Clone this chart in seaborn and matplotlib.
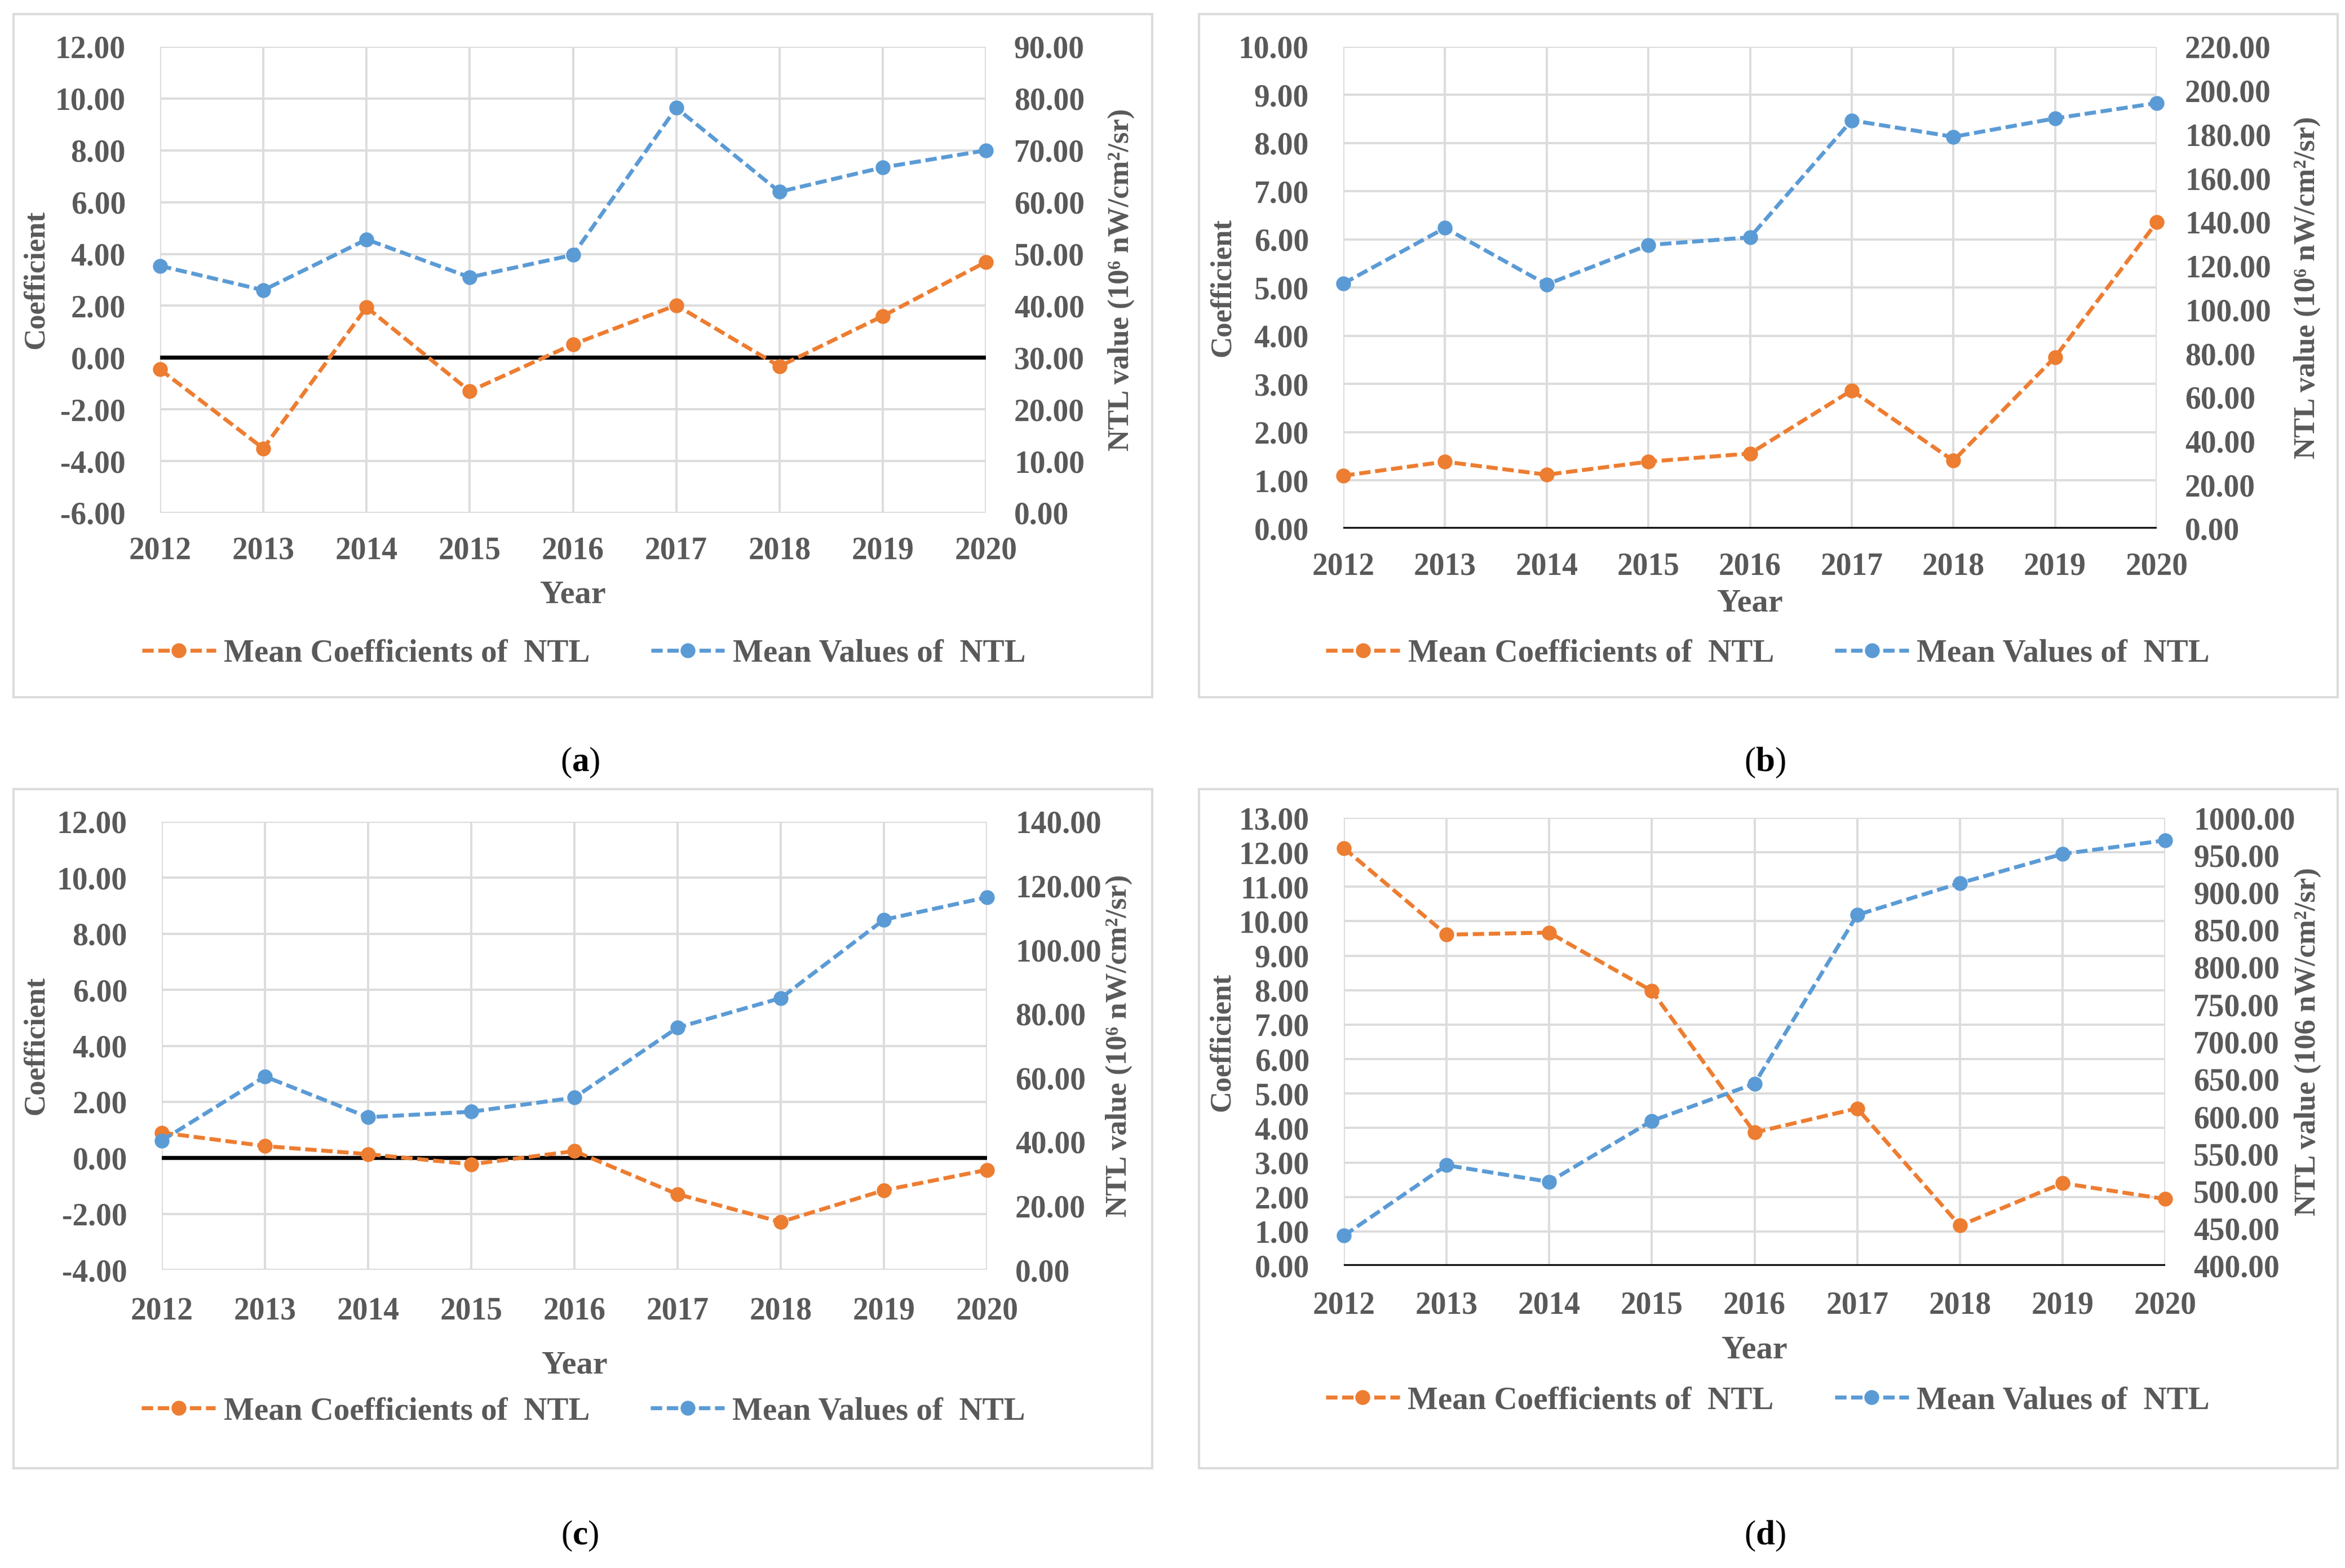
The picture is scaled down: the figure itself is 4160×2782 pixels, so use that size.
import matplotlib
matplotlib.use('Agg')
import matplotlib.pyplot as plt
from matplotlib.patches import Rectangle
import numpy as np
import pandas as pd
import seaborn as sns

years = [2012, 2013, 2014, 2015, 2016, 2017, 2018, 2019, 2020]

coef_a = [-0.46, -3.51, 1.94, -1.30, 0.51, 2.02, -0.34, 1.60, 3.69]
ntl_a = [47.7, 43.0, 52.8, 45.5, 49.8, 78.2, 62.0, 66.7, 70.0]

coef_b = [1.10, 1.39, 1.12, 1.39, 1.56, 2.87, 1.41, 3.56, 6.36]
ntl_b = [111.9, 137.3, 111.5, 129.5, 133.0, 186.4, 178.9, 187.3, 194.3]

coef_c = [0.90, 0.42, 0.13, -0.23, 0.24, -1.30, -2.29, -1.16, -0.43]
ntl_c = [40.4, 60.4, 47.7, 49.4, 53.8, 75.7, 84.9, 109.4, 116.4]

coef_d = [12.12, 9.61, 9.67, 7.98, 3.87, 4.57, 1.17, 2.40, 1.94]
ntl_d = [440.5, 534.8, 512.6, 594.2, 644.0, 870.0, 912.5, 951.6, 969.8]

coef_label = 'Mean Coefficients of  NTL'
ntl_label = 'Mean Values of  NTL'
right_title = 'NTL value (10\u2076 nW/cm\u00b2/sr)'
right_title_d = 'NTL value (106 nW/cm\u00b2/sr)'

sns.set_style('white')
plt.rcParams['font.family'] = ['Liberation Serif', 'DejaVu Serif']
plt.rcParams['mathtext.fontset'] = 'custom'
plt.rcParams['mathtext.rm'] = 'Liberation Serif'
plt.rcParams['mathtext.bf'] = 'Liberation Serif:bold'

ORANGE = '#ED7D31'
BLUE = '#5B9BD5'
GRAY = '#595959'
GRID = '#DCDCDC'
DASH = (0, (2.9, 1.2))

W, H = 4160, 2782
fig = plt.figure(figsize=(20.8, 13.91), dpi=200)


def px_rect(x0, y0, x1, y1):
    return [x0 / W, 1 - y1 / H, (x1 - x0) / W, (y1 - y0) / H]


def draw_panel(rect, coef, ntl, lticks, rticks, rtitle, ylab_x, rlab_x, year_y, leg_x, leg_y, xpad):
    ax = fig.add_axes(px_rect(*rect))
    df = pd.DataFrame({'Year': years, 'coef': coef, 'ntl': ntl})
    ax.axhline(0, color='black', lw=2.6, zorder=2)
    sns.lineplot(data=df, x='Year', y='coef', ax=ax, color=ORANGE, lw=2.5,
                 linestyle=DASH, marker='o', markersize=9.5,
                 markeredgewidth=0, label=coef_label, legend=False, clip_on=False, zorder=3)
    ax.set_xlim(2012, 2020)
    ax.set_ylim(lticks[0], lticks[-1])
    ax.set_xticks(years)
    ax.set_yticks(lticks)
    ax.set_yticklabels(['%.2f' % v for v in lticks])
    ax.grid(True, color=GRID, lw=1.4, zorder=0)
    ax.set_axisbelow(True)
    for s in ax.spines.values():
        s.set_visible(False)
    ax.tick_params(axis='both', length=0, labelsize=20, labelcolor=GRAY)
    ax.tick_params(axis='x', pad=xpad)
    ax.tick_params(axis='y', pad=22)
    for t in ax.get_xticklabels() + ax.get_yticklabels():
        t.set_fontweight('bold')
    ax.set_xlabel('Year', fontsize=21, fontweight='bold', color=GRAY)
    ax.xaxis.set_label_coords(0.5, year_y)
    ax.set_ylabel('Coefficient', fontsize=19, fontweight='bold', color=GRAY)
    ax.yaxis.set_label_coords(ylab_x, 0.5)

    ax2 = ax.twinx()
    sns.lineplot(data=df, x='Year', y='ntl', ax=ax2, color=BLUE, lw=2.5,
                 linestyle=DASH, marker='o', markersize=9.5,
                 markeredgewidth=0, label=ntl_label, legend=False, clip_on=False, zorder=3)
    ax2.set_xlim(2012, 2020)
    ax2.set_ylim(rticks[0], rticks[-1])
    ax2.set_yticks(rticks)
    ax2.set_yticklabels(['%.2f' % v for v in rticks])
    ax2.grid(False)
    for s in ax2.spines.values():
        s.set_visible(False)
    ax2.tick_params(axis='y', length=0, labelsize=20, labelcolor=GRAY, pad=18)
    for t in ax2.get_yticklabels():
        t.set_fontweight('bold')
    ax2.set_ylabel(rtitle, fontsize=19, fontweight='bold', color=GRAY)
    ax2.yaxis.set_label_coords(rlab_x, 0.5)

    handles = ax.get_lines()[1:2] + ax2.get_lines()[0:1]
    ax2.legend(handles, [coef_label, ntl_label], loc='center', bbox_to_anchor=(leg_x, leg_y),
               ncol=2, frameon=False, handlelength=2.3, handletextpad=0.25, columnspacing=1.9,
               prop={'family': 'Liberation Serif', 'weight': 'bold', 'size': 20.5}, labelcolor=GRAY)
    return ax, ax2


draw_panel((284, 83, 1749, 910), coef_a, ntl_a, np.arange(-6, 12.1, 2), np.arange(0, 90.1, 10),
           right_title, -0.134, 1.147, -0.145, 0.513, -0.302, 15)
draw_panel((2383, 83, 3826, 938), coef_b, ntl_b, np.arange(0, 10.1, 1), np.arange(0, 220.1, 20),
           right_title, -0.132, 1.168, -0.125, 0.522, -0.259, 15)
draw_panel((287, 1458, 1751, 2253), coef_c, ntl_c, np.arange(-4, 12.1, 2), np.arange(0, 140.1, 20),
           right_title, -0.136, 1.143, -0.180, 0.511, -0.316, 17)
draw_panel((2384, 1451, 3841, 2246), coef_d, ntl_d, np.arange(0, 13.1, 1), np.arange(400, 1000.1, 50),
           right_title_d, -0.132, 1.157, -0.155, 0.516, -0.301, 16)

for (x0, y0, x1, y1) in [(24, 25, 2044, 1237), (2127, 25, 4147, 1237),
                         (24, 1400, 2044, 2605), (2127, 1400, 4147, 2605)]:
    fig.patches.append(Rectangle((x0 / W, 1 - y1 / H), (x1 - x0) / W, (y1 - y0) / H,
                                 transform=fig.transFigure, fill=False,
                                 edgecolor=GRID, lw=1.5))

for lab, (x, y) in zip('abcd', [(1029, 1353), (3131, 1353), (1029, 2725), (3131, 2725)]):
    fig.text(x / W, 1 - y / H, r'($\mathbf{%s}$)' % lab, ha='center', va='center',
             fontsize=22, color='black')

fig.savefig('out.png', dpi=200)
